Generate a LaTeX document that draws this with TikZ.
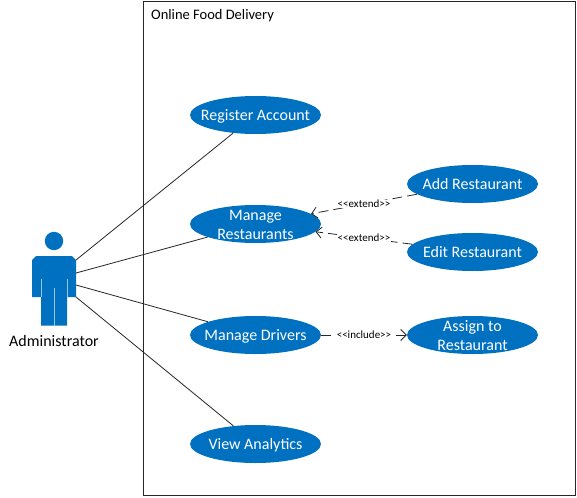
\documentclass[tikz,border=0pt]{standalone}
\usepackage{fontspec}
\setmainfont{Carlito}
\usetikzlibrary{shapes.geometric,arrows.meta}
\definecolor{ucblue}{HTML}{0070C0}
\definecolor{slit}{HTML}{9CC8E8}
\definecolor{ln}{HTML}{262626}
\newcommand{\uctext}[1]{\raisebox{-2pt}[\height][\depth]{\begin{tabular}{@{}c@{}}#1\end{tabular}}}
\tikzset{
  usecase/.style={ellipse,fill=ucblue,draw=none,text=white,minimum width=131pt,minimum height=38pt,inner xsep=-40pt,inner ysep=-25pt,font=\fontsize{16}{19}\selectfont},
  assoc/.style={draw=ln,line width=0.8pt},
  dep/.style={draw=ln,line width=0.8pt,dash pattern=on 10pt off 5pt,-{Straight Barb[length=5.5pt,width=11pt]}},
  deplabel/.style={fill=white,inner sep=0.5pt,font=\fontsize{11}{12}\selectfont},
  plain/.style={text=black,inner sep=0pt}
}
\begin{document}
\begin{tikzpicture}[x=1pt,y=-1pt]
\useasboundingbox (0,0) rectangle (577,497);
\node[draw=ln,line width=1pt,minimum width=432.5pt,minimum height=494pt,anchor=north west,inner sep=0pt] (sys) at (142.5,1) {};
\node[plain,anchor=west,font=\fontsize{14.5}{16}\selectfont] (title) at (151,16) {Online Food Delivery};
% actor
\fill[ucblue] (54,241) circle (9.2);
\fill[ucblue] (36,256) -- (72,256) -- (76,260) -- (76,297) -- (67,297) -- (67,325.5) -- (41,325.5) -- (41,297) -- (32,297) -- (32,260) -- cycle;
\draw[slit,line width=0.8pt] (41,279) -- (41,297) (67,279) -- (67,297) (54,288) -- (54,325.5);
\coordinate (a1) at (76,260);
\coordinate (a2) at (76,273);
\coordinate (a3) at (76,285);
\coordinate (a4) at (76,297);
\node[plain,font=\fontsize{16}{18}\selectfont] (adm) at (54,341) {Administrator};
% use cases
\node[usecase] (reg) at (255.5,115) {\uctext{Register Account}};
\node[usecase] (mr) at (255.5,224) {\uctext{Manage\\Restaurants}};
\node[usecase] (md) at (255.5,335) {\uctext{Manage Drivers}};
\node[usecase] (va) at (255.5,444) {\uctext{View Analytics}};
\node[usecase] (add) at (472.5,184) {\uctext{Add Restaurant}};
\node[usecase] (edit) at (472.5,252) {\uctext{Edit Restaurant}};
\node[usecase] (asg) at (472.5,335) {\uctext{Assign to\\Restaurant}};
% associations
\draw[assoc] (a1) -- (reg);
\draw[assoc] (a2) -- (mr);
\draw[assoc] (a3) -- (md);
\draw[assoc] (a4) -- (va);
% dependencies
\draw[dep] (add) -- node[deplabel,pos=0.5] (l1) {<{}<extend>{}>} (mr);
\draw[dep] (edit) -- node[deplabel,pos=0.5] (l2) {<{}<extend>{}>} (mr);
\draw[dep] (md) -- node[deplabel,pos=0.5] (l3) {<{}<include>{}>} (asg);
\end{tikzpicture}
\end{document}
